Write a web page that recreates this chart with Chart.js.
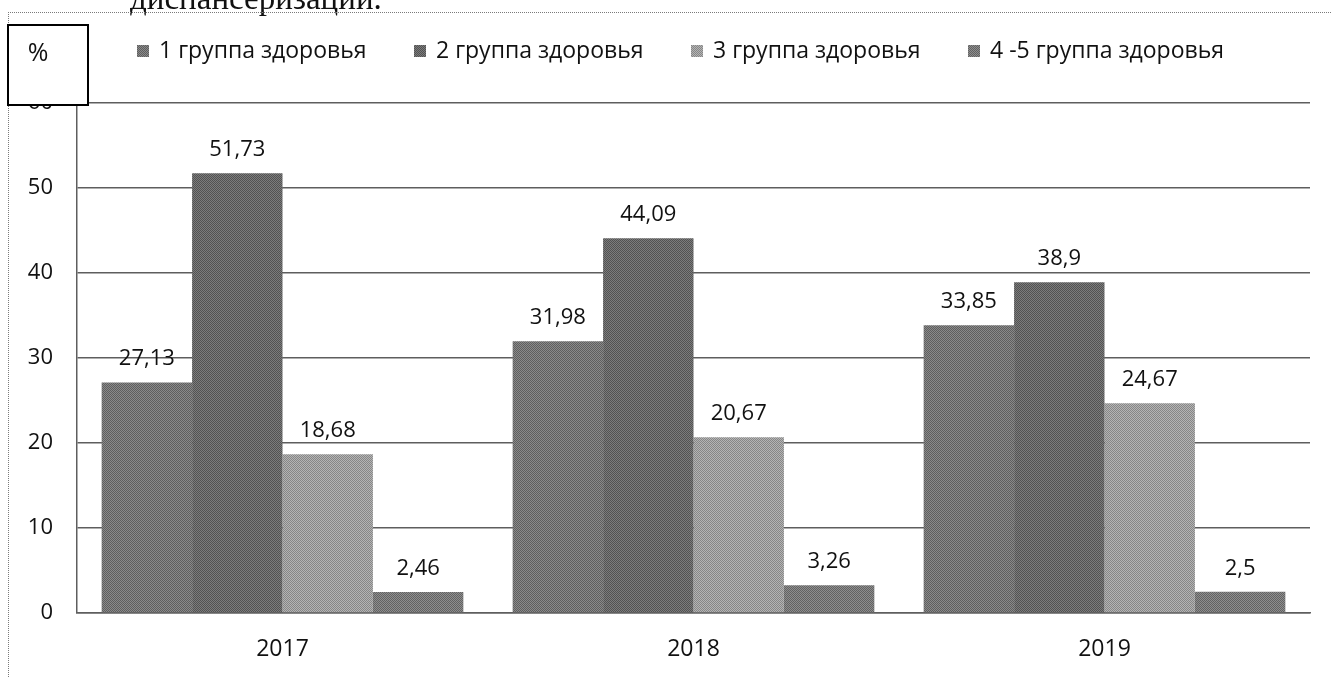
<!DOCTYPE html>
<html>
<head>
<meta charset="utf-8">
<script src="https://cdn.jsdelivr.net/npm/chart.js@4.4.1/dist/chart.umd.min.js"></script>
<style>
  body { margin: 0; background: #fff; }
  #wrap { width: 1332px; height: 677px; }
</style>
</head>
<body>
<div id="wrap"><canvas id="groupsChart" width="1332" height="677"></canvas></div>
<script>
// values
var years = ['2017', '2018', '2019'];
var group1 = [27.13, 31.98, 33.85];
var group2 = [51.73, 44.09, 38.9];
var group3 = [18.68, 20.67, 24.67];
var group4 = [2.46, 3.26, 2.5];
var seriesNames = ['1 группа здоровья', '2 группа здоровья', '3 группа здоровья', '4 -5 группа здоровья'];
var yTicks = [0, 10, 20, 30, 40, 50, 60];

var FONT = '"Open Sans", sans-serif';
// light / dark pairs of the scanned dither
var shades = [['#8a8a8a', '#5e5e5e'], ['#7c7c7c', '#525252'], ['#b4b4b4', '#868686'], ['#8e8e8e', '#626262']];

function fmt(v) {
  return String(v).replace('.', ',');
}

function dither(pair) {
  var c = document.createElement('canvas');
  c.width = 2; c.height = 2;
  var g = c.getContext('2d');
  g.fillStyle = pair[0]; g.fillRect(0, 0, 2, 2);
  g.fillStyle = pair[1]; g.fillRect(0, 0, 1, 1); g.fillRect(1, 1, 1, 1);
  return g.createPattern(c, 'repeat');
}

// page frame, cut-off text above, "%" box
var framePlugin = {
  id: 'frame',
  beforeDraw: function(chart) {
    var ctx = chart.ctx;
    ctx.save();
    ctx.fillStyle = '#fff';
    ctx.fillRect(0, 0, chart.width, chart.height);
    ctx.fillStyle = '#111';
    ctx.font = '33px "Liberation Serif", serif';
    ctx.textBaseline = 'alphabetic';
    ctx.fillText('диспансеризации.', 130, 9);
    ctx.strokeStyle = '#7a7a7a';
    ctx.lineWidth = 1;
    ctx.setLineDash([1, 1]);
    ctx.beginPath();
    ctx.moveTo(8, 12.5); ctx.lineTo(chart.width, 12.5);
    ctx.moveTo(8.5, 12); ctx.lineTo(8.5, chart.height);
    ctx.stroke();
    ctx.restore();
  },
  afterDraw: function(chart) {
    var ctx = chart.ctx;
    ctx.save();
    ctx.fillStyle = '#fff';
    ctx.fillRect(8, 25, 80, 80);
    ctx.strokeStyle = '#000';
    ctx.lineWidth = 2;
    ctx.strokeRect(8, 25, 80, 80);
    ctx.fillStyle = '#111';
    ctx.font = '25px ' + FONT;
    ctx.textAlign = 'center';
    ctx.textBaseline = 'middle';
    ctx.fillText('%', 38, 54);
    ctx.restore();
  }
};

// legend in one row across the top
var legendPlugin = {
  id: 'rowLegend',
  afterDraw: function(chart) {
    var ctx = chart.ctx;
    ctx.save();
    ctx.font = '23px ' + FONT;
    ctx.textBaseline = 'middle';
    chart.data.datasets.forEach(function(ds, i) {
      var x = 137 + i * 277;
      ctx.fillStyle = ds.backgroundColor;
      ctx.fillRect(x, 45, 12, 12);
      ctx.fillStyle = '#111';
      ctx.fillText(ds.label, x + 22, 51);
    });
    ctx.restore();
  }
};

// values over the bars
var valuePlugin = {
  id: 'barValues',
  afterDatasetsDraw: function(chart) {
    var ctx = chart.ctx;
    ctx.save();
    ctx.font = '22px ' + FONT;
    ctx.fillStyle = '#111';
    ctx.textAlign = 'center';
    ctx.textBaseline = 'alphabetic';
    chart.data.datasets.forEach(function(ds, i) {
      var meta = chart.getDatasetMeta(i);
      meta.data.forEach(function(bar, j) {
        ctx.fillText(fmt(ds.data[j]), bar.x, bar.y - 17);
      });
    });
    ctx.restore();
  }
};

var seriesData = [group1, group2, group3, group4];
var datasets = seriesData.map(function(d, i) {
  return {
    label: seriesNames[i],
    data: d,
    backgroundColor: dither(shades[i]),
    borderWidth: 0,
    categoryPercentage: 0.88,
    barPercentage: 1.0
  };
});

new Chart(document.getElementById('groupsChart').getContext('2d'), {
  type: 'bar',
  data: { labels: years, datasets: datasets },
  options: {
    responsive: false,
    animation: false,
    layout: { padding: { left: 0, top: 103, right: 22, bottom: 0 } },
    plugins: {
      legend: { display: false },
      tooltip: { enabled: false }
    },
    scales: {
      x: {
        grid: { display: false, drawTicks: false },
        border: { display: true, color: '#5e5e5e', width: 1.5 },
        ticks: { color: '#111', font: { family: FONT, size: 23 }, padding: 23 },
        afterFit: function(s) { s.height = 64; }
      },
      y: {
        min: 0,
        max: 60,
        afterBuildTicks: function(s) {
          s.ticks = yTicks.map(function(v) { return { value: v }; });
        },
        grid: { color: '#5e5e5e', lineWidth: 1.5, drawTicks: false },
        border: { display: true, color: '#5e5e5e', width: 1.5 },
        ticks: { color: '#111', font: { family: FONT, size: 22 }, padding: 24 },
        afterFit: function(s) { s.width = 77; }
      }
    }
  },
  plugins: [framePlugin, legendPlugin, valuePlugin]
});
</script>
</body>
</html>
